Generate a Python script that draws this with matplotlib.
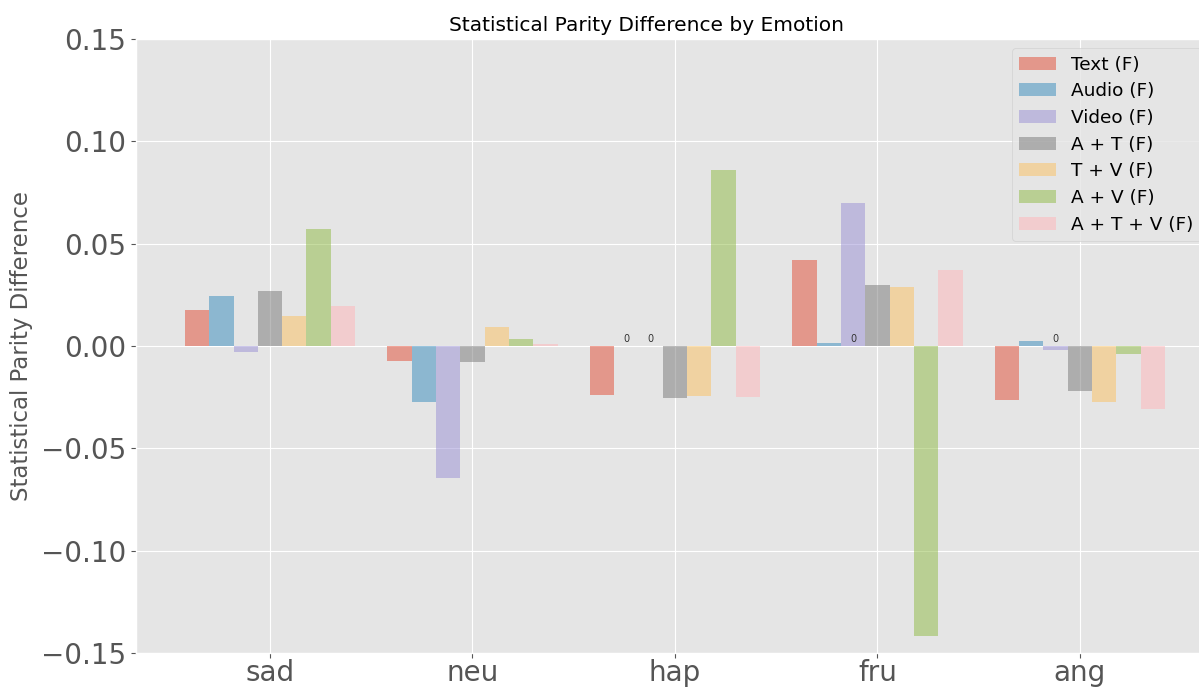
import matplotlib
matplotlib.use("Agg")
import matplotlib.pyplot as plt
import numpy as np

plt.style.use("ggplot")

emotions = ["sad", "neu", "hap", "fru", "ang"]
series_labels = ["Text (F)", "Audio (F)", "Video (F)", "A + T (F)", "T + V (F)", "A + V (F)", "A + T + V (F)"]

text_f = [0.0178, -0.0073, -0.0240, 0.0420, -0.0265]
audio_f = [0.0245, -0.0275, 0.0, 0.0015, 0.0024]
video_f = [-0.0030, -0.0645, 0.0, 0.0700, -0.0018]
at_f = [0.0268, -0.0080, -0.0252, 0.0300, -0.0218]
tv_f = [0.0145, 0.0093, -0.0242, 0.0290, -0.0272]
av_f = [0.0570, 0.0034, 0.0860, -0.1417, -0.0039]
atv_f = [0.0195, 0.0008, -0.0248, 0.0370, -0.0310]

series = [text_f, audio_f, video_f, at_f, tv_f, av_f, atv_f]

# (group index, series index) of the "0" annotations
zero_labels = [(2, 1), (2, 2), (3, 2), (4, 2)]

fig = plt.figure(figsize=(11.99, 6.87), dpi=100)
ax = fig.add_axes([0.1134, 0.0495, 0.8991, 0.8937])

x = np.arange(len(emotions))
width = 0.12
n = len(series)
for i, (vals, lab) in enumerate(zip(series, series_labels)):
    ax.bar(x + (i - (n - 1) / 2) * width, vals, width, label=lab, alpha=0.5)

for g, s in zero_labels:
    ax.text(x[g] + (s - (n - 1) / 2) * width, 0.0008, "0", ha="center", va="bottom",
            fontsize=7, color="#333333")

ax.set_ylim(-0.15, 0.15)
ax.set_xticks(x)
ax.set_xticklabels(emotions)
ax.tick_params(axis="both", labelsize=20)
ax.tick_params(axis="x", pad=0.5)
ax.set_ylabel("Statistical Parity Difference", fontsize=16.5, labelpad=6)
ax.set_title("Statistical Parity Difference by Emotion", fontsize=14.5, x=0.474)
ax.legend(loc="upper right", bbox_to_anchor=(0.9963, 1.0), fontsize=13.3, labelspacing=0.47)

fig.savefig("out.png", dpi=100)
